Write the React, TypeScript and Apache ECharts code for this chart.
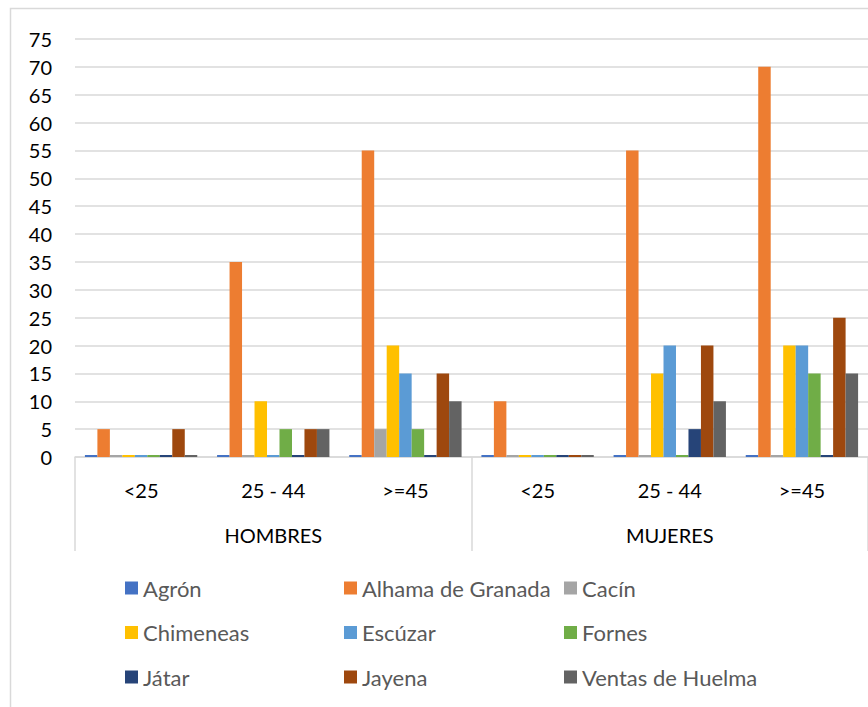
import React, { useEffect, useRef } from "react";
import * as echarts from "echarts";

const categories = ["<25", "25 - 44", ">=45", "<25", "25 - 44", ">=45"];
const groups = ["HOMBRES", "MUJERES"];
const yTicks = { min: 0, max: 75, interval: 5 };

const seriesNames = [
  "Agrón",
  "Alhama de Granada",
  "Cacín",
  "Chimeneas",
  "Escúzar",
  "Fornes",
  "Játar",
  "Jayena",
  "Ventas de Huelma",
];
const colors = [
  "#4472C4",
  "#ED7D31",
  "#A5A5A5",
  "#FFC000",
  "#5B9BD5",
  "#70AD47",
  "#264478",
  "#9E480E",
  "#636363",
];

const agron = [0, 0, 0, 0, 0, 0];
const alhama = [5, 35, 55, 10, 55, 70];
const cacin = [0, 0, 5, 0, 0, 0];
const chimeneas = [0, 10, 20, 0, 15, 20];
const escuzar = [0, 0, 15, 0, 20, 20];
const fornes = [0, 5, 5, 0, 0, 15];
const jatar = [0, 0, 0, 0, 5, 0];
const jayena = [5, 5, 15, 0, 20, 25];
const ventas = [0, 5, 10, 0, 10, 15];

const seriesValues = [agron, alhama, cacin, chimeneas, escuzar, fornes, jatar, jayena, ventas];

const legendCols = [
  ["Agrón", "Chimeneas", "Játar"],
  ["Alhama de Granada", "Escúzar", "Jayena"],
  ["Cacín", "Fornes", "Ventas de Huelma"],
];
const legendLefts = [125, 344, 564];

const FONT = "Lato";

export default function App() {
  const ref = useRef<HTMLDivElement>(null);
  useEffect(() => {
    if (!ref.current) return;
    const chart = echarts.init(ref.current, undefined, { renderer: "svg" });
    const option: any = {
      animation: false,
      backgroundColor: "#ffffff",
      textStyle: { fontFamily: FONT },
      graphic: [
        {
          type: "rect",
          silent: true,
          shape: { x: 10.5, y: 8.5, width: 1000, height: 1000 },
          style: { fill: "none", stroke: "#D9D9D9", lineWidth: 1.5 },
        },
      ],
      grid: { left: 75, right: 0, top: 39, bottom: 250, containLabel: false },
      legend: legendCols.map((col, i) => ({
        data: col,
        orient: "vertical",
        left: legendLefts[i],
        top: 577,
        padding: 0,
        itemWidth: 13,
        itemHeight: 13,
        itemGap: 22.5,
        icon: "rect",
        selectedMode: false,
        textStyle: { fontFamily: FONT, fontSize: 22, color: "#595959", lineHeight: 22 },
      })),
      xAxis: [
        {
          type: "category",
          data: categories,
          position: "bottom",
          axisLine: { show: true, lineStyle: { color: "#D9D9D9", width: 1.5 } },
          axisTick: { show: false },
          axisLabel: { interval: 0, margin: 23, fontSize: 20, color: "#000", fontFamily: FONT, lineHeight: 20 },
        },
        {
          type: "category",
          data: groups,
          position: "bottom",
          gridIndex: 0,
          axisLine: { show: false },
          axisTick: { show: true, length: 94, interval: 0, lineStyle: { color: "#D9D9D9", width: 1.5 } },
          axisLabel: { interval: 0, margin: 68, fontSize: 20, color: "#000", fontFamily: FONT, lineHeight: 20 },
          splitLine: { show: false },
        },
      ],
      yAxis: {
        type: "value",
        min: yTicks.min,
        max: yTicks.max,
        interval: yTicks.interval,
        axisLine: { show: false },
        axisTick: { show: false },
        axisLabel: { margin: 23, fontSize: 20, color: "#000", fontFamily: FONT },
        splitLine: { lineStyle: { color: "#D9D9D9", width: 1.5 } },
      },
      series: seriesNames.map((name, i) => ({
        name,
        type: "bar",
        xAxisIndex: 0,
        data: seriesValues[i],
        itemStyle: { color: colors[i] },
        barGap: "0%",
        barCategoryGap: "15%",
        barMinHeight: 2,
      })),
    };
    chart.setOption(option);
    return () => chart.dispose();
  }, []);
  return (
    <div
      ref={ref}
      style={{ position: "fixed", left: 0, top: 0, width: 868, height: 707 }}
    />
  );
}
